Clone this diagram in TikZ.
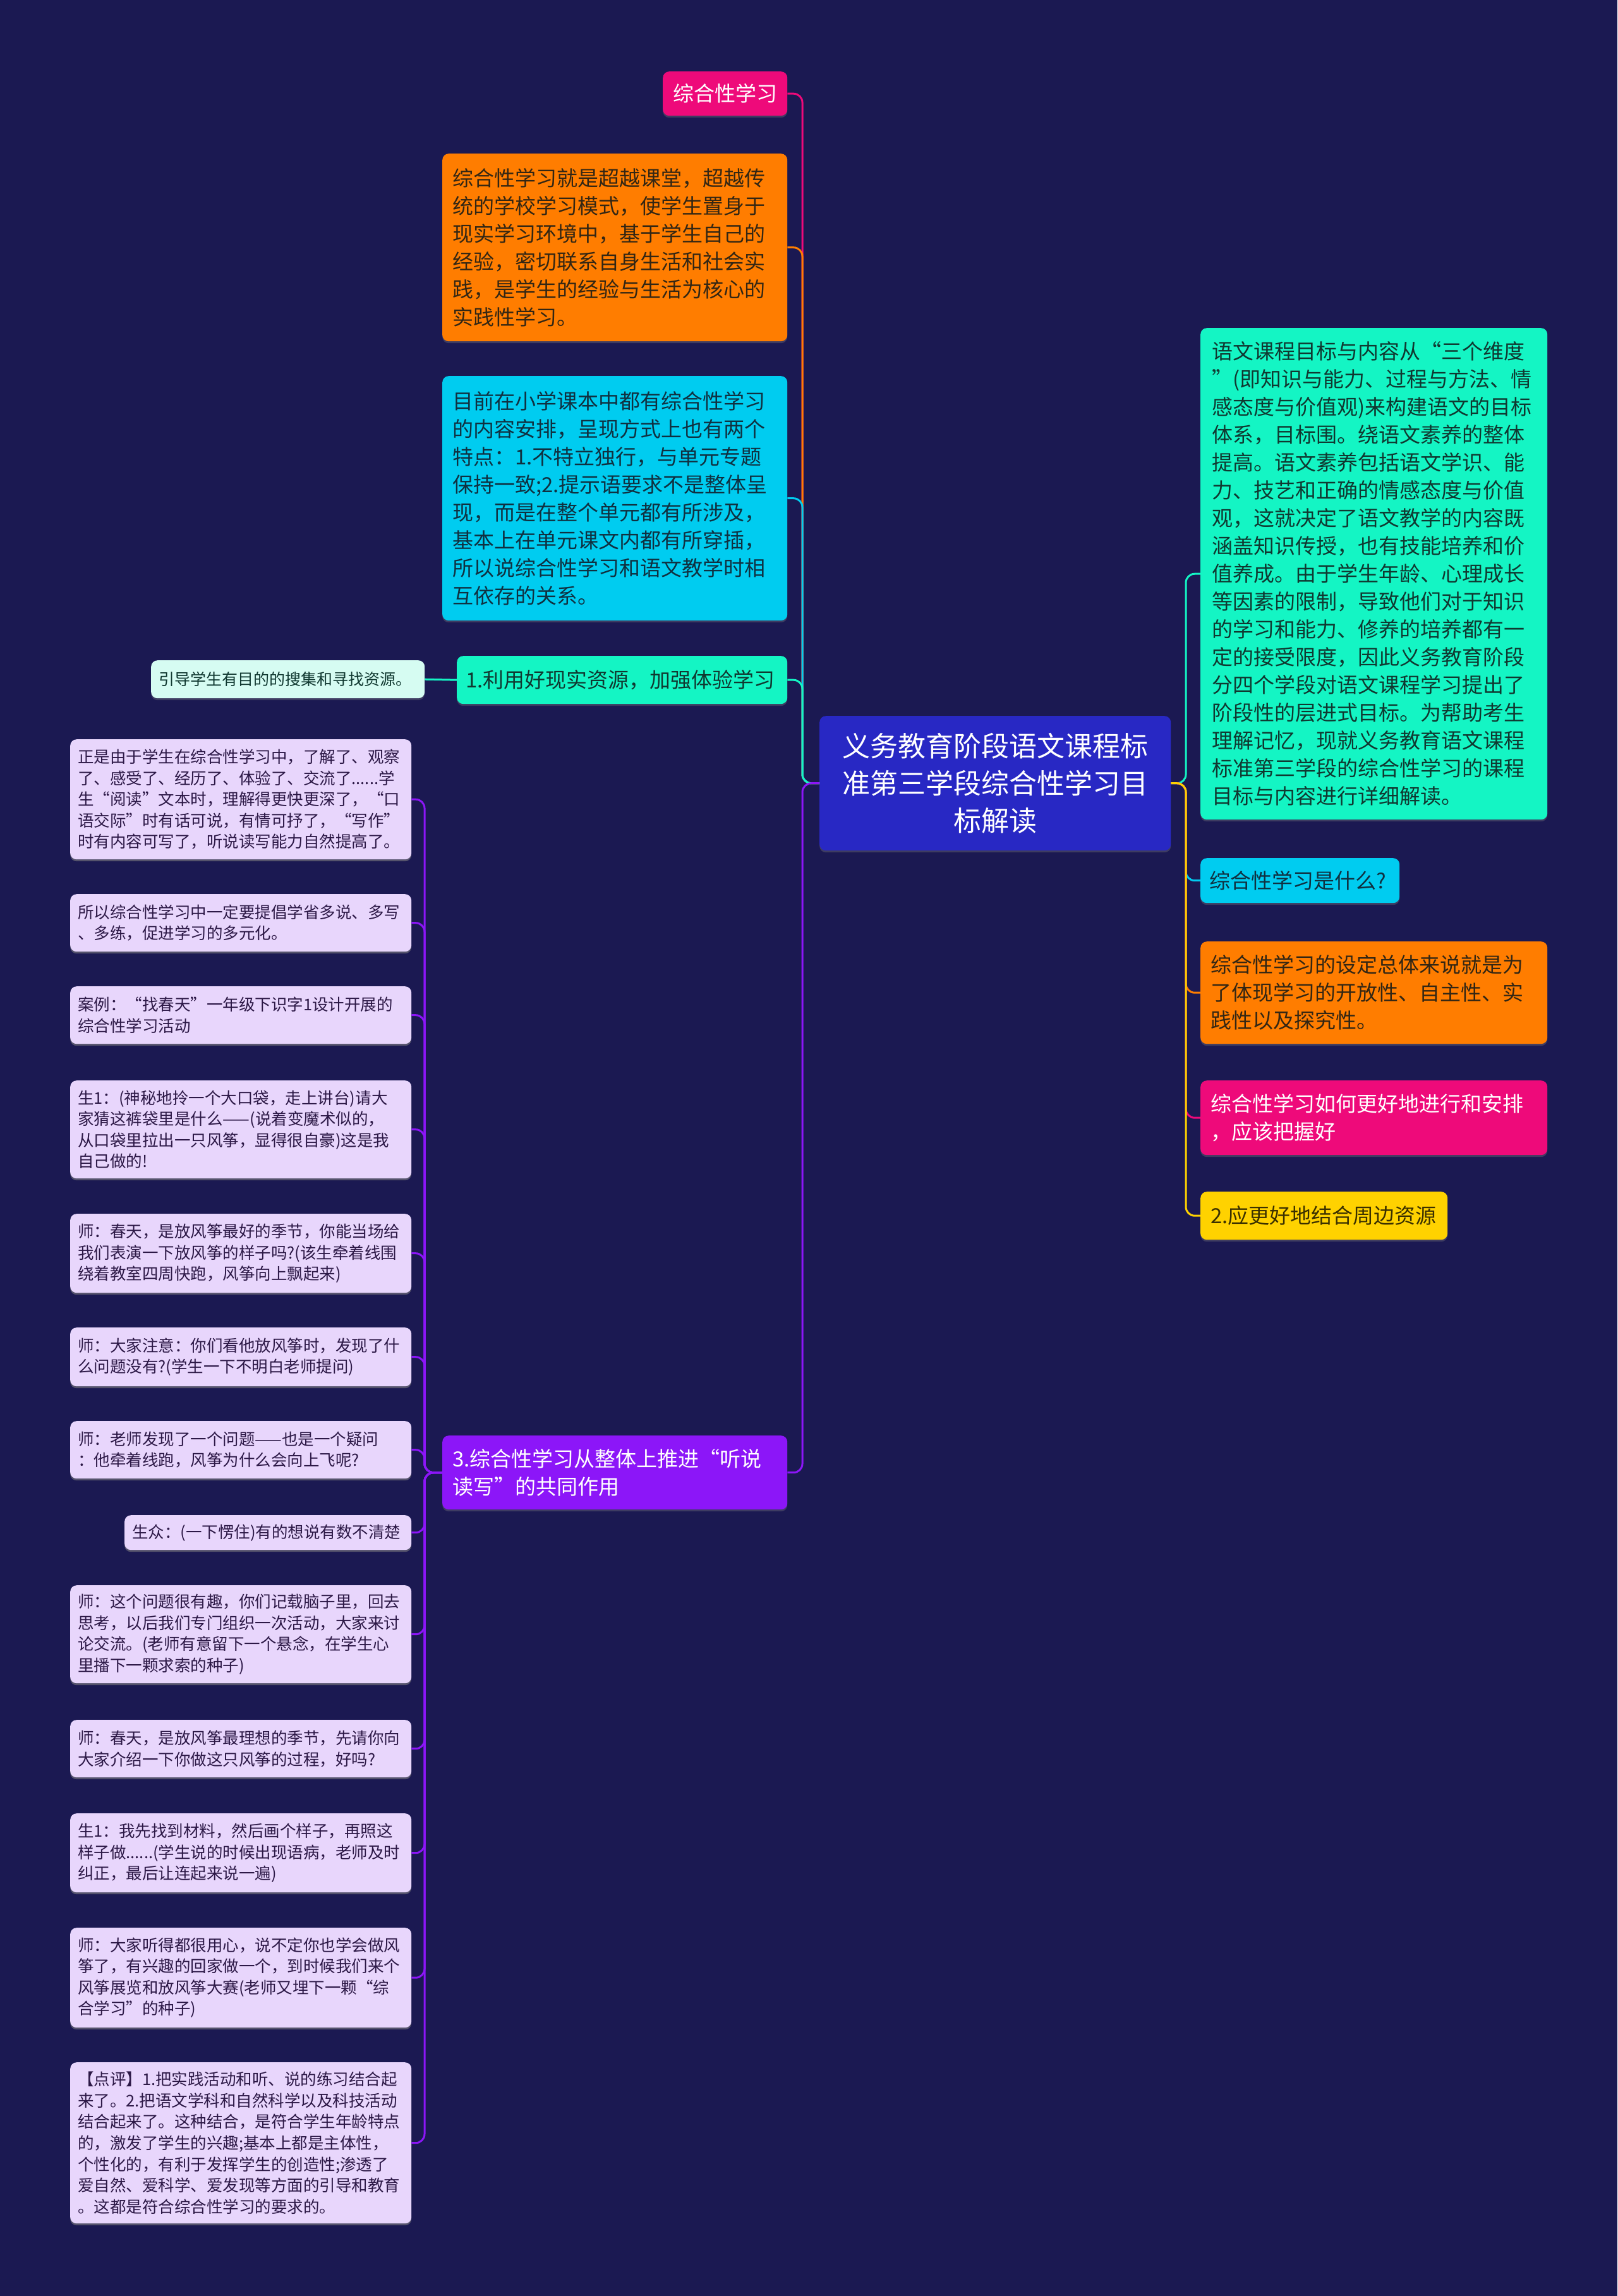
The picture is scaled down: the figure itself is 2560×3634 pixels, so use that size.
\documentclass[tikz,border=0pt]{standalone}
\usepackage{fontspec}
\setmainfont{Noto Sans CJK SC}
\usetikzlibrary{calc,shadows}
\definecolor{bg}{RGB}{27,25,82}
\definecolor{cctr}{RGB}{40,40,196}
\definecolor{cpink}{RGB}{238,10,122}
\definecolor{corange}{RGB}{255,125,0}
\definecolor{ccyan}{RGB}{0,204,240}
\definecolor{caqua}{RGB}{20,245,196}
\definecolor{cmint}{RGB}{214,252,242}
\definecolor{cpurple}{RGB}{140,22,248}
\definecolor{clav}{RGB}{232,214,252}
\definecolor{cyellow}{RGB}{255,210,0}
\definecolor{tdark}{RGB}{50,38,20}
\definecolor{tcyan}{RGB}{16,48,64}
\definecolor{tgreen}{RGB}{16,56,48}
\definecolor{tlav}{RGB}{44,24,70}
\definecolor{tyel}{RGB}{58,48,0}
\tikzset{
  box/.style={rounded corners=10pt, inner ysep=0pt, align=left,
    font=\fontsize{33}{44}\selectfont,
    drop shadow={opacity=0.35, shadow xshift=0pt, shadow yshift=-3pt}},
  kid/.style={box, fill=clav, text=tlav, font=\fontsize{25.5}{33.6}\selectfont},
  conn/.style={line width=3pt, rounded corners=14pt},
}
\newcommand\bx[8]{%
  \pgfmathsetmacro\bw{#4-#2}%
  \pgfmathsetmacro\bh{#5-#3}%
  \pgfmathsetmacro\tw{#4-#2-2*#6}%
  \node[box, #7, anchor=north west, inner xsep=#6pt, minimum width=\bw pt,
        minimum height=\bh pt, text width=\tw pt] (#1) at (#2,#3) {#8};}
\begin{document}
\begin{tikzpicture}[x=1pt,y=-1pt]
\fill[bg] (0,0) rectangle (2560,3634);
\useasboundingbox (0,0) rectangle (2560,3634);

% center
\bx{ctr}{1297}{1133}{1853}{1346}{20}{fill=cctr, text=white, align=center, font=\fontsize{44}{59}\selectfont}{义务教育阶段语文课程标\\准第三学段综合性学习目\\标解读}

% left top
\bx{n1}{1049}{113}{1246}{183}{14}{fill=cpink, text=white, align=center}{综合性学习}
\bx{n2}{700}{243}{1246}{540}{16}{fill=corange, text=tdark}{综合性学习就是超越课堂，超越传\\统的学校学习模式，使学生置身于\\现实学习环境中，基于学生自己的\\经验，密切联系自身生活和社会实\\践，是学生的经验与生活为核心的\\实践性学习。}
\bx{n3}{700}{595}{1246}{982}{16}{fill=ccyan, text=tcyan}{目前在小学课本中都有综合性学习\\的内容安排，呈现方式上也有两个\\特点：1.不特立独行，与单元专题\\保持一致;2.提示语要求不是整体呈\\现，而是在整个单元都有所涉及，\\基本上在单元课文内都有所穿插，\\所以说综合性学习和语文教学时相\\互依存的关系。}
\bx{n4}{723}{1038}{1246}{1114}{14}{fill=caqua, text=tgreen}{1.利用好现实资源，加强体验学习}
\bx{n5}{239}{1045}{672}{1105}{12}{fill=cmint, text=tgreen, font=\fontsize{25}{33}\selectfont}{引导学生有目的的搜集和寻找资源。}
\bx{n6}{700}{2272}{1246}{2389}{16}{fill=cpurple, text=white}{3.综合性学习从整体上推进“听说\\读写”的共同作用}

% right
\bx{g1}{1900}{519}{2449}{1297}{18}{fill=caqua, text=tgreen}{语文课程目标与内容从“三个维度\\”(即知识与能力、过程与方法、情\\感态度与价值观)来构建语文的目标\\体系，目标围。绕语文素养的整体\\提高。语文素养包括语文学识、能\\力、技艺和正确的情感态度与价值\\观，这就决定了语文教学的内容既\\涵盖知识传授，也有技能培养和价\\值养成。由于学生年龄、心理成长\\等因素的限制，导致他们对于知识\\的学习和能力、修养的培养都有一\\定的接受限度，因此义务教育阶段\\分四个学段对语文课程学习提出了\\阶段性的层进式目标。为帮助考生\\理解记忆，现就义务教育语文课程\\标准第三学段的综合性学习的课程\\目标与内容进行详细解读。}
\bx{g2}{1900}{1358}{2215}{1429}{14}{fill=ccyan, text=tcyan}{综合性学习是什么?}
\bx{g3}{1900}{1490}{2449}{1652}{16}{fill=corange, text=tdark}{综合性学习的设定总体来说就是为\\了体现学习的开放性、自主性、实\\践性以及探究性。}
\bx{g4}{1900}{1710}{2449}{1828}{16}{fill=cpink, text=white}{综合性学习如何更好地进行和安排\\，应该把握好}
\bx{g5}{1900}{1886}{2291}{1962}{16}{fill=cyellow, text=tyel}{2.应更好地结合周边资源}

% purple children
\bx{ka}{111}{1170}{651}{1360}{12}{kid}{正是由于学生在综合性学习中，了解了、观察\\了、感受了、经历了、体验了、交流了......学\\生“阅读”文本时，理解得更快更深了，“口\\语交际”时有话可说，有情可抒了，“写作”\\时有内容可写了，听说读写能力自然提高了。}
\bx{kb}{111}{1415}{651}{1506}{12}{kid}{所以综合性学习中一定要提倡学省多说、多写\\、多练，促进学习的多元化。}
\bx{kc}{111}{1561}{651}{1652}{12}{kid}{案例：“找春天”一年级下识字1设计开展的\\综合性学习活动}
\bx{kd}{111}{1710}{651}{1865}{12}{kid}{生1：(神秘地拎一个大口袋，走上讲台)请大\\家猜这裤袋里是什么——(说着变魔术似的，\\从口袋里拉出一只风筝，显得很自豪)这是我\\自己做的!}
\bx{ke}{111}{1921}{651}{2046}{12}{kid}{师：春天，是放风筝最好的季节，你能当场给\\我们表演一下放风筝的样子吗?(该生牵着线围\\绕着教室四周快跑，风筝向上飘起来)}
\bx{kf}{111}{2101}{651}{2194}{12}{kid}{师：大家注意：你们看他放风筝时，发现了什\\么问题没有?(学生一下不明白老师提问)}
\bx{kg}{111}{2249}{651}{2340}{12}{kid}{师：老师发现了一个问题——也是一个疑问\\：他牵着线跑，风筝为什么会向上飞呢?}
\bx{kh}{197}{2398}{651}{2453}{12}{kid}{生众：(一下愣住)有的想说有数不清楚}
\bx{ki}{111}{2509}{651}{2664}{12}{kid}{师：这个问题很有趣，你们记载脑子里，回去\\思考，以后我们专门组织一次活动，大家来讨\\论交流。(老师有意留下一个悬念，在学生心\\里播下一颗求索的种子)}
\bx{kj}{111}{2722}{651}{2813}{12}{kid}{师：春天，是放风筝最理想的季节，先请你向\\大家介绍一下你做这只风筝的过程，好吗?}
\bx{kk}{111}{2870}{651}{2995}{12}{kid}{生1：我先找到材料，然后画个样子，再照这\\样子做......(学生说的时候出现语病，老师及时\\纠正，最后让连起来说一遍)}
\bx{kl}{111}{3051}{651}{3209}{12}{kid}{师：大家听得都很用心，说不定你也学会做风\\筝了，有兴趣的回家做一个，到时候我们来个\\风筝展览和放风筝大赛(老师又埋下一颗“综\\合学习”的种子)}
\bx{km}{111}{3264}{651}{3519}{12}{kid}{【点评】1.把实践活动和听、说的练习结合起\\来了。2.把语文学科和自然科学以及科技活动\\结合起来了。这种结合，是符合学生年龄特点\\的，激发了学生的兴趣;基本上都是主体性，\\个性化的，有利于发挥学生的创造性;渗透了\\爱自然、爱科学、爱发现等方面的引导和教育\\。这都是符合综合性学习的要求的。}

% buses
\coordinate (busL) at (1270,0);
\coordinate (busR) at (1877,0);
\coordinate (busP) at (672,0);

\begin{scope}[on background layer/.style={}]
\end{scope}

% left top connectors (far first)
\draw[conn,cpink]   (ctr.west) -- (ctr.west -| busL) |- (n1.east);
\draw[conn,corange] (ctr.west) -- (ctr.west -| busL) |- (n2.east);
\draw[conn,ccyan]   (ctr.west) -- (ctr.west -| busL) |- (n3.east);
\draw[conn,caqua]   (ctr.west) -- (ctr.west -| busL) |- (n4.east);
\draw[conn,caqua]   (n4.west) -- (n5.east);
\draw[conn,cpurple] (ctr.west) -- (ctr.west -| busL) |- (n6.east);

% right connectors
\draw[conn,caqua]   (ctr.east) -- (ctr.east -| busR) |- (g1.west);
\draw[conn,ccyan]   (ctr.east) -- (ctr.east -| busR) |- (g2.west);
\draw[conn,corange] (ctr.east) -- (ctr.east -| busR) |- (g3.west);
\draw[conn,cpink]   (ctr.east) -- (ctr.east -| busR) |- (g4.west);
\draw[conn,cyellow] (ctr.east) -- (ctr.east -| busR) |- (g5.west);

% purple children connectors
\foreach \k in {ka,kb,kc,kd,ke,kf,kg,kh,ki,kj,kk,kl,km}{
  \draw[conn,cpurple] (n6.west) -- (n6.west -| busP) |- (\k.east);
}
\end{tikzpicture}
\end{document}
